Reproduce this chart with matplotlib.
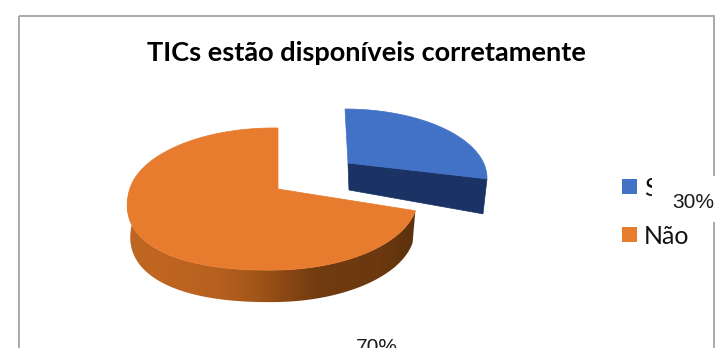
import numpy as np
import matplotlib
matplotlib.use("Agg")
import matplotlib.pyplot as plt
from matplotlib.patches import Polygon, Rectangle

# Survey answers
categories = ["Sim", "Não"]
shares = [30, 70]
share_labels = ["30%", "70%"]
title = "TICs estão disponíveis corretamente"

BLUE = "#4272c6"
NAVY = "#1b3264"
ORANGE = "#e87c2e"

fig = plt.figure(figsize=(7.26, 3.48), dpi=100, facecolor="white")
ax = fig.add_axes([0, 0, 1, 1])

# Chart frame, running past the lower edge of the figure
ax.add_patch(Rectangle((19, 16), 695, 400, fill=False, ec="#a9a9a9", lw=1.4, zorder=1))

ax.text(366, 53, title, ha="center", va="center", fontsize=19.5,
        fontweight="bold", family="Lato", color="black", zorder=5)


def rim_main(start, stop, n=200):
    """Rim of the large slice: a circle under a perspective tilt, slightly
    bulged in its lower left quarter. Angles run clockwise from twelve o'clock."""
    deg = np.linspace(start, stop, n)
    t = np.radians(deg)
    bulge = 1 + 0.05 * np.where((deg > 180) & (deg < 270), np.sin(2 * t) ** 2, 0)
    u, v = np.sin(t) * bulge, np.cos(t) * bulge
    w = 1 + 0.141 * v + 0.0355 * u
    return np.column_stack([278 + 143 * u / w, 189 - 69.6 * v / w])


def rim_pulled(start, stop, n=120):
    """Rim of the exploded slice, foreshortened towards the viewer."""
    t = np.radians(np.linspace(start, stop, n) * 0.84)
    return np.column_stack([345 + 142 * np.sin(t), 178 - 69 * np.cos(t)])


sweep = 360 * shares[0] / sum(shares)

# Exploded slice: cut face, then top
b_rim = rim_pulled(0, sweep)
b_apex = np.array([348, 163])
ax.add_patch(Polygon(np.vstack([b_apex, b_rim[-1], b_rim[-1] + [-4, 35], b_apex + [1, 27]]),
                     fc=NAVY, ec=NAVY, lw=0.5, zorder=2))
ax.add_patch(Polygon(np.vstack([b_apex, b_rim]), fc=BLUE, ec=BLUE, lw=0.5, zorder=3))

# Large slice: side wall shaded left to right, then the top face
wall_top = rim_main(sweep, 275)
wall_low = wall_top[::-1].copy()
wall_low[:, 0] = 278 + (wall_low[:, 0] - 278) * 0.98
wall_low[:, 1] += 32
wall = Polygon(np.vstack([wall_top, wall_low]), fc="none", ec="none", zorder=2)
ax.add_patch(wall)

ramp_x = np.arange(120, 430)
ramp_at = [128, 153, 215, 253, 285, 320, 380, 418]
ramp_rgb = np.array([[0.74, 0.40, 0.13], [0.75, 0.40, 0.13], [0.72, 0.38, 0.12],
                     [0.64, 0.34, 0.10], [0.54, 0.28, 0.08], [0.44, 0.23, 0.06],
                     [0.42, 0.22, 0.06], [0.35, 0.19, 0.05]])
ramp = np.stack([np.interp(ramp_x, ramp_at, ramp_rgb[:, i]) for i in range(3)], axis=-1)[None, :, :]
img = ax.imshow(ramp, extent=(120, 430, 310, 190), aspect="auto", zorder=2, interpolation="bilinear")
img.set_clip_path(wall)

o_rim = rim_main(sweep, 360)
ax.add_patch(Polygon(np.vstack([[278, 189], o_rim]), fc=ORANGE, ec=ORANGE, lw=0.5, zorder=3))

# Legend
for y, colour, name in zip([179, 227], [BLUE, ORANGE], categories):
    ax.add_patch(Rectangle((622, y), 15, 15, fc=colour, ec="none", zorder=3))
    ax.text(644, y + 9, name, ha="left", va="center", fontsize=18,
            family="Lato", color="#111111", zorder=3)

# Value labels sit on opaque boxes that hide what lies under them
ax.add_patch(Rectangle((652, 176), 74, 46, fc="white", ec="none", zorder=4))
ax.text(693, 208, share_labels[0], ha="center", va="baseline", fontsize=15,
        family="Liberation Sans", color="#1a1a1a", zorder=5)
ax.text(377, 353, share_labels[1], ha="center", va="baseline", fontsize=15,
        family="Liberation Sans", color="#1a1a1a", zorder=5)

ax.set_xlim(0, 726)
ax.set_ylim(348, 0)
ax.axis("off")

fig.savefig("out.png", dpi=100, facecolor="white")
